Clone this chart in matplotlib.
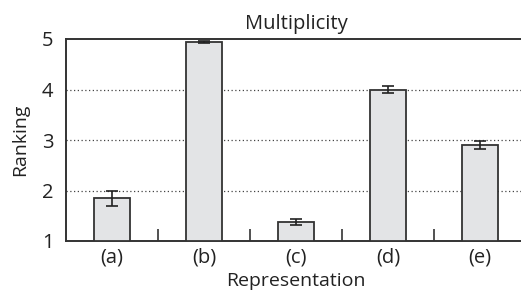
import matplotlib

matplotlib.use("Agg")

import matplotlib.pyplot as plt
import numpy as np

plt.rcParams["font.family"] = ["Open Sans", "DejaVu Sans"]

categories = ["(a)", "(b)", "(c)", "(d)", "(e)"]
ranking = [1.85, 4.95, 1.38, 4.00, 2.90]
errors = [0.15, 0.02, 0.065, 0.075, 0.08]
yticks = [1, 2, 3, 4, 5]

fig = plt.figure(figsize=(5.21, 3.01), dpi=100)
ax = fig.add_axes([66 / 521, 60 / 301, 460 / 521, 202 / 301])

x = np.arange(len(categories))
ax.bar(x, np.array(ranking) - 1, bottom=1, width=0.4, color="#e3e4e6",
       edgecolor="#333333", linewidth=1.3, zorder=3)
ax.errorbar(x, ranking, yerr=errors, fmt="none", ecolor="#222222",
            elinewidth=1.2, capsize=4.5, capthick=1.2, zorder=4)

ax.set_xlim(-0.5, len(categories) - 0.5)
ax.set_ylim(1, 5)
ax.set_yticks(yticks)
ax.set_xticks(x)
ax.set_xticklabels(categories)
ax.set_xticks(x[:-1] + 0.5, minor=True)
ax.tick_params(axis="both", which="major", length=0, labelsize=14.5, pad=5,
               colors="#222222")
ax.tick_params(axis="y", which="major", pad=9)
ax.tick_params(axis="x", which="minor", direction="in", length=9, width=1.2,
               color="#333333")

for y in yticks[1:-1]:
    ax.axhline(y, color="#444444", linestyle=(0, (1, 2)), linewidth=0.9, zorder=1)

for side in ["left", "top", "bottom"]:
    ax.spines[side].set_linewidth(1.4)
    ax.spines[side].set_color("#333333")
ax.spines["right"].set_visible(False)

ax.set_title("Multiplicity", fontsize=14.5, color="#222222", pad=7)
ax.set_ylabel("Ranking", fontsize=14, color="#222222", labelpad=9)
ax.set_xlabel("Representation", fontsize=14, color="#222222", labelpad=3)

fig.savefig("out.png", dpi=100)
